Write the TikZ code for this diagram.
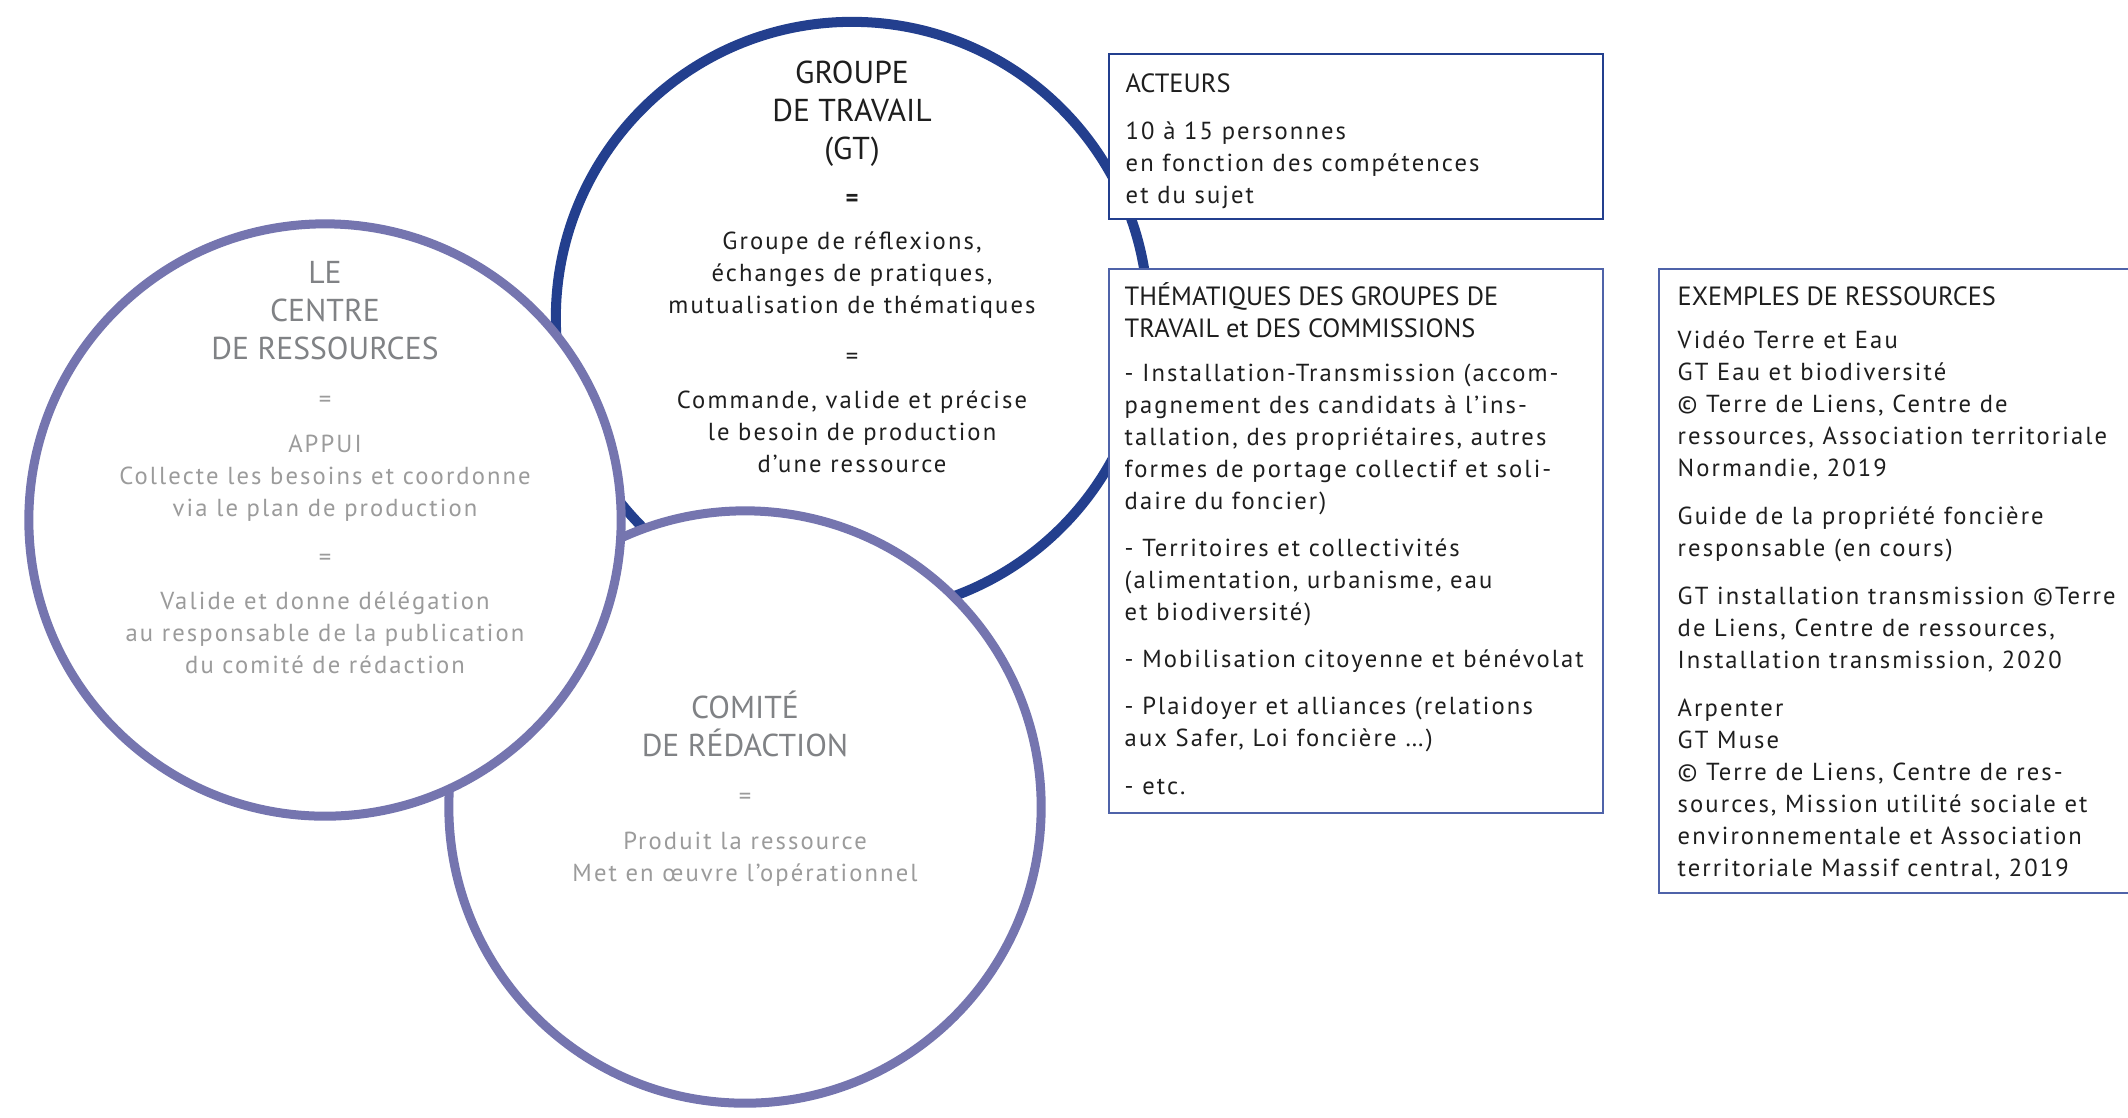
\documentclass[tikz,border=0pt]{standalone}
\usepackage{fontspec}
\setmainfont{PT Sans}
\newfontfamily\corps[LetterSpace=8.5]{PT Sans}
\newfontfamily\titre{PT Sans}
\usepackage{tikz}
\usetikzlibrary{positioning}
\definecolor{bleuGT}{HTML}{233F8E}
\definecolor{lavande}{HTML}{7575AF}
\definecolor{bleuCadre}{HTML}{4F63A9}
\definecolor{grisTitre}{HTML}{808285}
\definecolor{grisTexte}{HTML}{9B9B9B}
\definecolor{noirTexte}{HTML}{1E1E1E}

\begin{document}
\begin{tikzpicture}[x=0.01cm,y=-0.01cm]
  \tikzstyle{Cercle}=[circle,draw,fill=white,minimum size=5.92cm,inner sep=0pt]
  \tikzstyle{Cadre}=[draw=bleuCadre,fill=white,line width=0.45pt]
  % les textes sont places par la ligne de base de leur derniere ligne
  \tikzstyle{TitreRond}=[inner sep=0pt,align=center,anchor=base,
    font=\titre\fontsize{9}{10.8}\selectfont]
  \tikzstyle{TexteRond}=[inner sep=0pt,align=center,anchor=base,
    font=\corps\fontsize{7}{9.1}\selectfont]
  \tikzstyle{TitreCadre}=[inner sep=0pt,align=left,anchor=base west,text=noirTexte,
    font=\titre\fontsize{7.5}{9.1}\selectfont]
  \tikzstyle{TexteCadre}=[inner sep=0pt,align=left,anchor=base west,text=noirTexte,
    font=\corps\fontsize{7}{9.1}\selectfont]
  \useasboundingbox (0,0) rectangle (2128,1117);
  % les trois cercles
  \node[Cercle,draw=bleuGT,line width=2.85pt] (gt) at (852,318) {};
  \node[Cercle,draw=lavande,line width=2.56pt] (comite) at (745,807) {};
  \node[Cercle,draw=lavande,line width=2.56pt] (centre) at (325,520) {};
  % les cadres
  \draw[Cadre,draw=bleuGT,line width=0.6pt] (1109,54) rectangle (1603,219);
  \draw[Cadre] (1109,269) rectangle (1603,813);
  \draw[Cadre] (1659,269) rectangle (2140,893);
  % groupe de travail
  \node[TitreRond,text=noirTexte] (gtTitre) at (852,159) {GROUPE\\DE TRAVAIL\\(GT)};
  \node[TexteRond,text=noirTexte,font=\titre\bfseries\fontsize{7}{9.1}\selectfont] (gtEgal1) at (852,206) {=};
  \node[TexteRond,text=noirTexte] (gtRole) at (852,313)
    {Groupe de réflexions,\\échanges de pratiques,\\mutualisation de thématiques};
  \node[TexteRond,text=noirTexte] (gtEgal2) at (852,364) {=};
  \node[TexteRond,text=noirTexte] (gtCommande) at (852,472)
    {Commande, valide et précise\\le besoin de production\\d’une ressource};
  % centre de ressources
  \node[TitreRond,text=grisTitre] (crTitre) at (325,359) {LE\\CENTRE\\DE RESSOURCES};
  \node[TexteRond,text=grisTexte] (crEgal1) at (325,407) {=};
  \node[TexteRond,text=grisTexte] (crAppui) at (325,516)
    {APPUI\\Collecte les besoins et coordonne\\via le plan de production};
  \node[TexteRond,text=grisTexte] (crEgal2) at (325,565) {=};
  \node[TexteRond,text=grisTexte] (crValide) at (325,673)
    {Valide et donne délégation\\au responsable de la publication\\du comité de rédaction};
  % comite de redaction
  \node[TitreRond,text=grisTitre] (crdTitre) at (745,756) {COMITÉ\\DE RÉDACTION};
  \node[TexteRond,text=grisTexte] (crdEgal) at (745,804) {=};
  \node[TexteRond,text=grisTexte] (crdProduit) at (745,881)
    {Produit la ressource\\Met en œuvre l’opérationnel};
  % acteurs
  \node[TitreCadre] (actTitre) at (1125,92) {ACTEURS};
  \node[TexteCadre] (actTexte) at (1125,203)
    {10 à 15 personnes\\en fonction des compétences\\et du sujet};
  % thematiques
  \node[TitreCadre] (themTitre) at (1124,337)
    {THÉMATIQUES DES GROUPES DE\\TRAVAIL et DES COMMISSIONS};
  \node[TexteCadre] (themTexte) at (1124,794)
    {- Installation-Transmission (accom-\\pagnement des candidats à l’ins-\\tallation, des propriétaires, autres\\formes de portage collectif et soli-\\daire du foncier)\\[4.3pt]
     - Territoires et collectivités\\(alimentation, urbanisme, eau\\et biodiversité)\\[4.3pt]
     - Mobilisation citoyenne et bénévolat\\[4.3pt]
     - Plaidoyer et alliances (relations\\aux Safer, Loi foncière …)\\[4.3pt]
     - etc.};
  % exemples
  \node[TitreCadre] (exTitre) at (1677,305) {EXEMPLES DE RESSOURCES};
  \node[TexteCadre] (exTexte) at (1677,876)
    {Vidéo Terre et Eau\\GT Eau et biodiversité\\© Terre de Liens, Centre de\\ressources, Association territoriale\\Normandie, 2019\\[4.5pt]
     Guide de la propriété foncière\\responsable (en cours)\\[4.5pt]
     GT installation transmission ©Terre\\de Liens, Centre de ressources,\\Installation transmission, 2020\\[4.5pt]
     Arpenter\\GT Muse\\© Terre de Liens, Centre de res-\\sources, Mission utilité sociale et\\environnementale et Association\\territoriale Massif central, 2019};
\end{tikzpicture}
\end{document}
